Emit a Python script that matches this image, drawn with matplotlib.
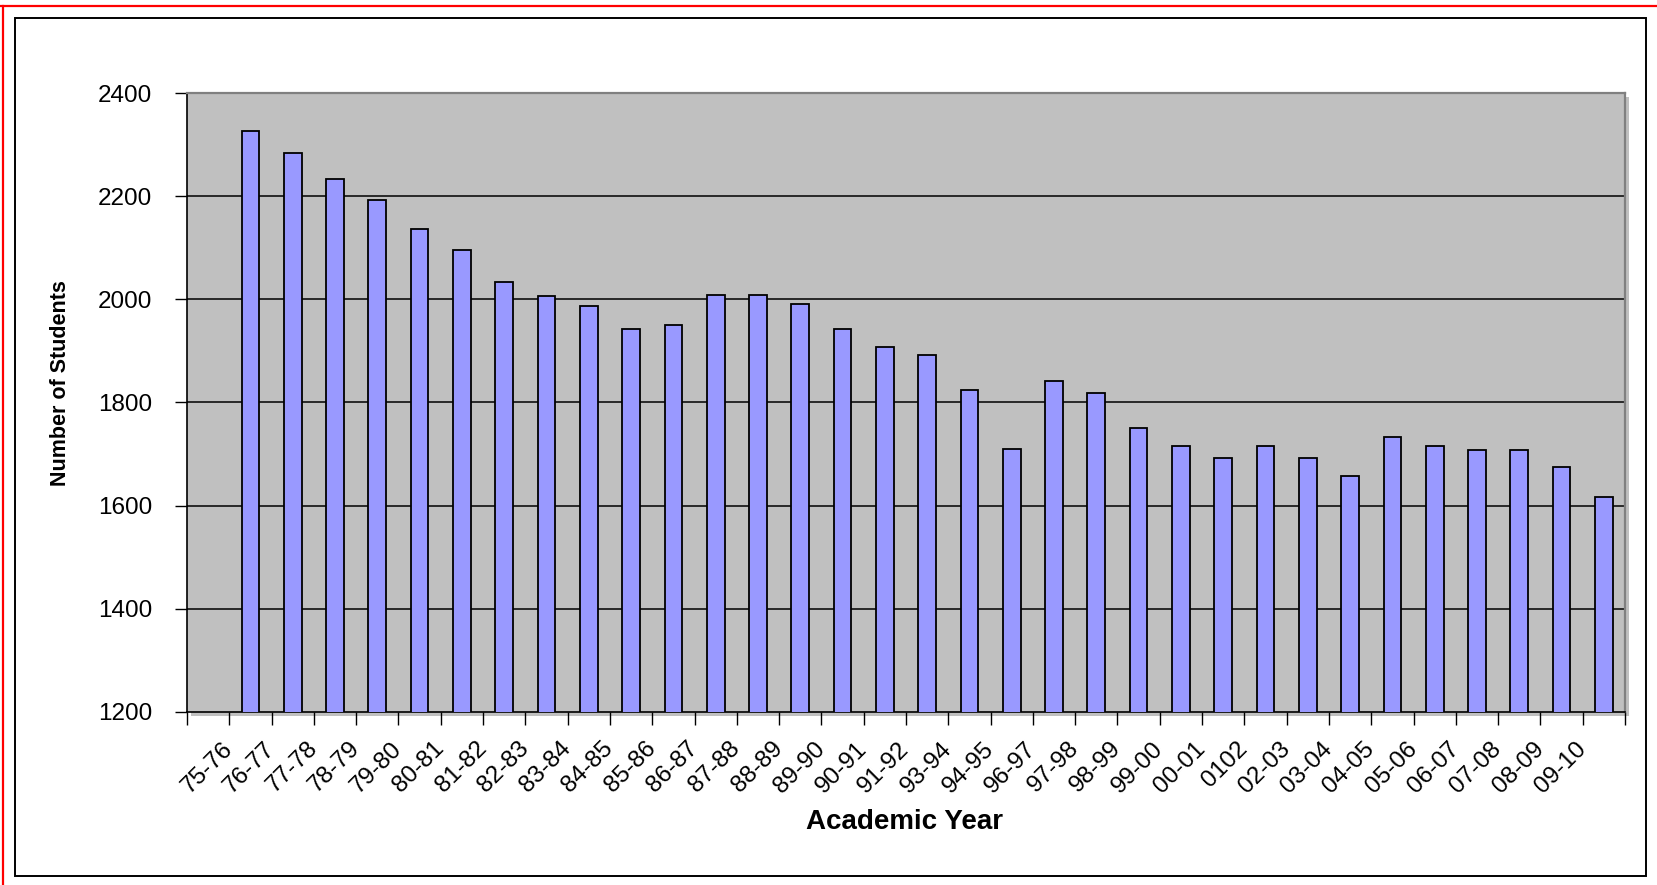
import numpy as np
import matplotlib
matplotlib.use("Agg")
import matplotlib.pyplot as plt
import matplotlib.transforms as mtransforms
from matplotlib.patches import Rectangle
from matplotlib.lines import Line2D

# --- datos ---
years = ["75-76", "76-77", "77-78", "78-79", "79-80", "80-81", "81-82", "82-83",
         "83-84", "84-85", "85-86", "86-87", "87-88", "88-89", "89-90", "90-91",
         "91-92", "93-94", "94-95", "96-97", "97-98", "98-99", "99-00", "00-01",
         "0102", "02-03", "03-04", "04-05", "05-06", "06-07", "07-08", "08-09",
         "09-10"]
students = [2326, 2284, 2234, 2192, 2136, 2096, 2033, 2007, 1988, 1942, 1950,
            2009, 2009, 1991, 1942, 1908, 1892, 1825, 1709, 1842, 1818, 1750,
            1716, 1692, 1716, 1692, 1658, 1733, 1716, 1708, 1708, 1675, 1617]
y_ticks = [1200, 1400, 1600, 1800, 2000, 2200, 2400]

plt.rcParams['font.family'] = ['Liberation Sans', 'DejaVu Sans']

W, H = 1657, 885
fig = plt.figure(figsize=(W / 100, H / 100), dpi=100)
fig.patch.set_facecolor("white")

# marco rojo (arriba e izquierda) y marco negro interior
fig.add_artist(Line2D([0, 1], [1 - 6 / H, 1 - 6 / H], color="#FF0000", lw=1.6,
                      transform=fig.transFigure))
fig.add_artist(Line2D([2.5 / W, 2.5 / W], [0, 1 - 6 / H], color="#FF0000", lw=1.6,
                      transform=fig.transFigure))
fig.add_artist(Rectangle((15.5 / W, 1 - 876 / H), (1646 - 15.5) / W, (876 - 18) / H,
                         fill=False, ec="black", lw=1.4, transform=fig.transFigure))

# area del grafico
ax_l, ax_r, ax_t, ax_b = 187, 1625, 93, 712
rect = [ax_l / W, 1 - ax_b / H, (ax_r - ax_l) / W, (ax_b - ax_t) / H]

# sombra del area
fig.add_artist(Rectangle(((ax_l + 4) / W, 1 - (ax_b + 4) / H), (ax_r - ax_l) / W,
                         (ax_b - ax_t) / H, fc="#C0C0C0", ec="none",
                         transform=fig.transFigure, zorder=0))

ax = fig.add_axes(rect)
ax.set_facecolor("#C0C0C0")

n_slots = len(years) + 1
x = np.arange(len(years)) + 1.5
ax.bar(x, students, width=0.42, bottom=0, color="#9999FF", edgecolor="black",
       linewidth=1.3, zorder=3)

ax.set_xlim(0, n_slots)
ax.set_ylim(1200, 2400)
ax.set_yticks(y_ticks)
ax.set_yticklabels([str(v) for v in y_ticks], fontsize=17.5)
for v in y_ticks[1:-1]:
    ax.axhline(v, color="black", lw=1.1, zorder=1)

ax.set_xticks(np.arange(n_slots + 1))
ax.set_xticklabels([""] + years + [""], fontsize=17.5, rotation=45, ha="right",
                   va="center", rotation_mode="anchor")
offset = mtransforms.ScaledTranslation(18 / 100, 0, fig.dpi_scale_trans)
for lbl in ax.get_xticklabels():
    lbl.set_transform(lbl.get_transform() + offset)

ax.tick_params(axis="y", direction="out", length=9, width=1, pad=16)
ax.tick_params(axis="x", direction="out", length=9, width=1, pad=15)

for side in ["top", "right"]:
    ax.spines[side].set_color("#808080")
    ax.spines[side].set_linewidth(1.6)
for side in ["left", "bottom"]:
    ax.spines[side].set_color("black")
    ax.spines[side].set_linewidth(1.2)

fig.text(60 / W, 1 - 383 / H, "Number of Students", rotation=90, ha="center",
         va="center", fontsize=15.5, fontweight="bold")
fig.text(904 / W, 1 - 822 / H, "Academic Year", ha="center", va="center",
         fontsize=20, fontweight="bold")

fig.savefig("out.png", dpi=100)
